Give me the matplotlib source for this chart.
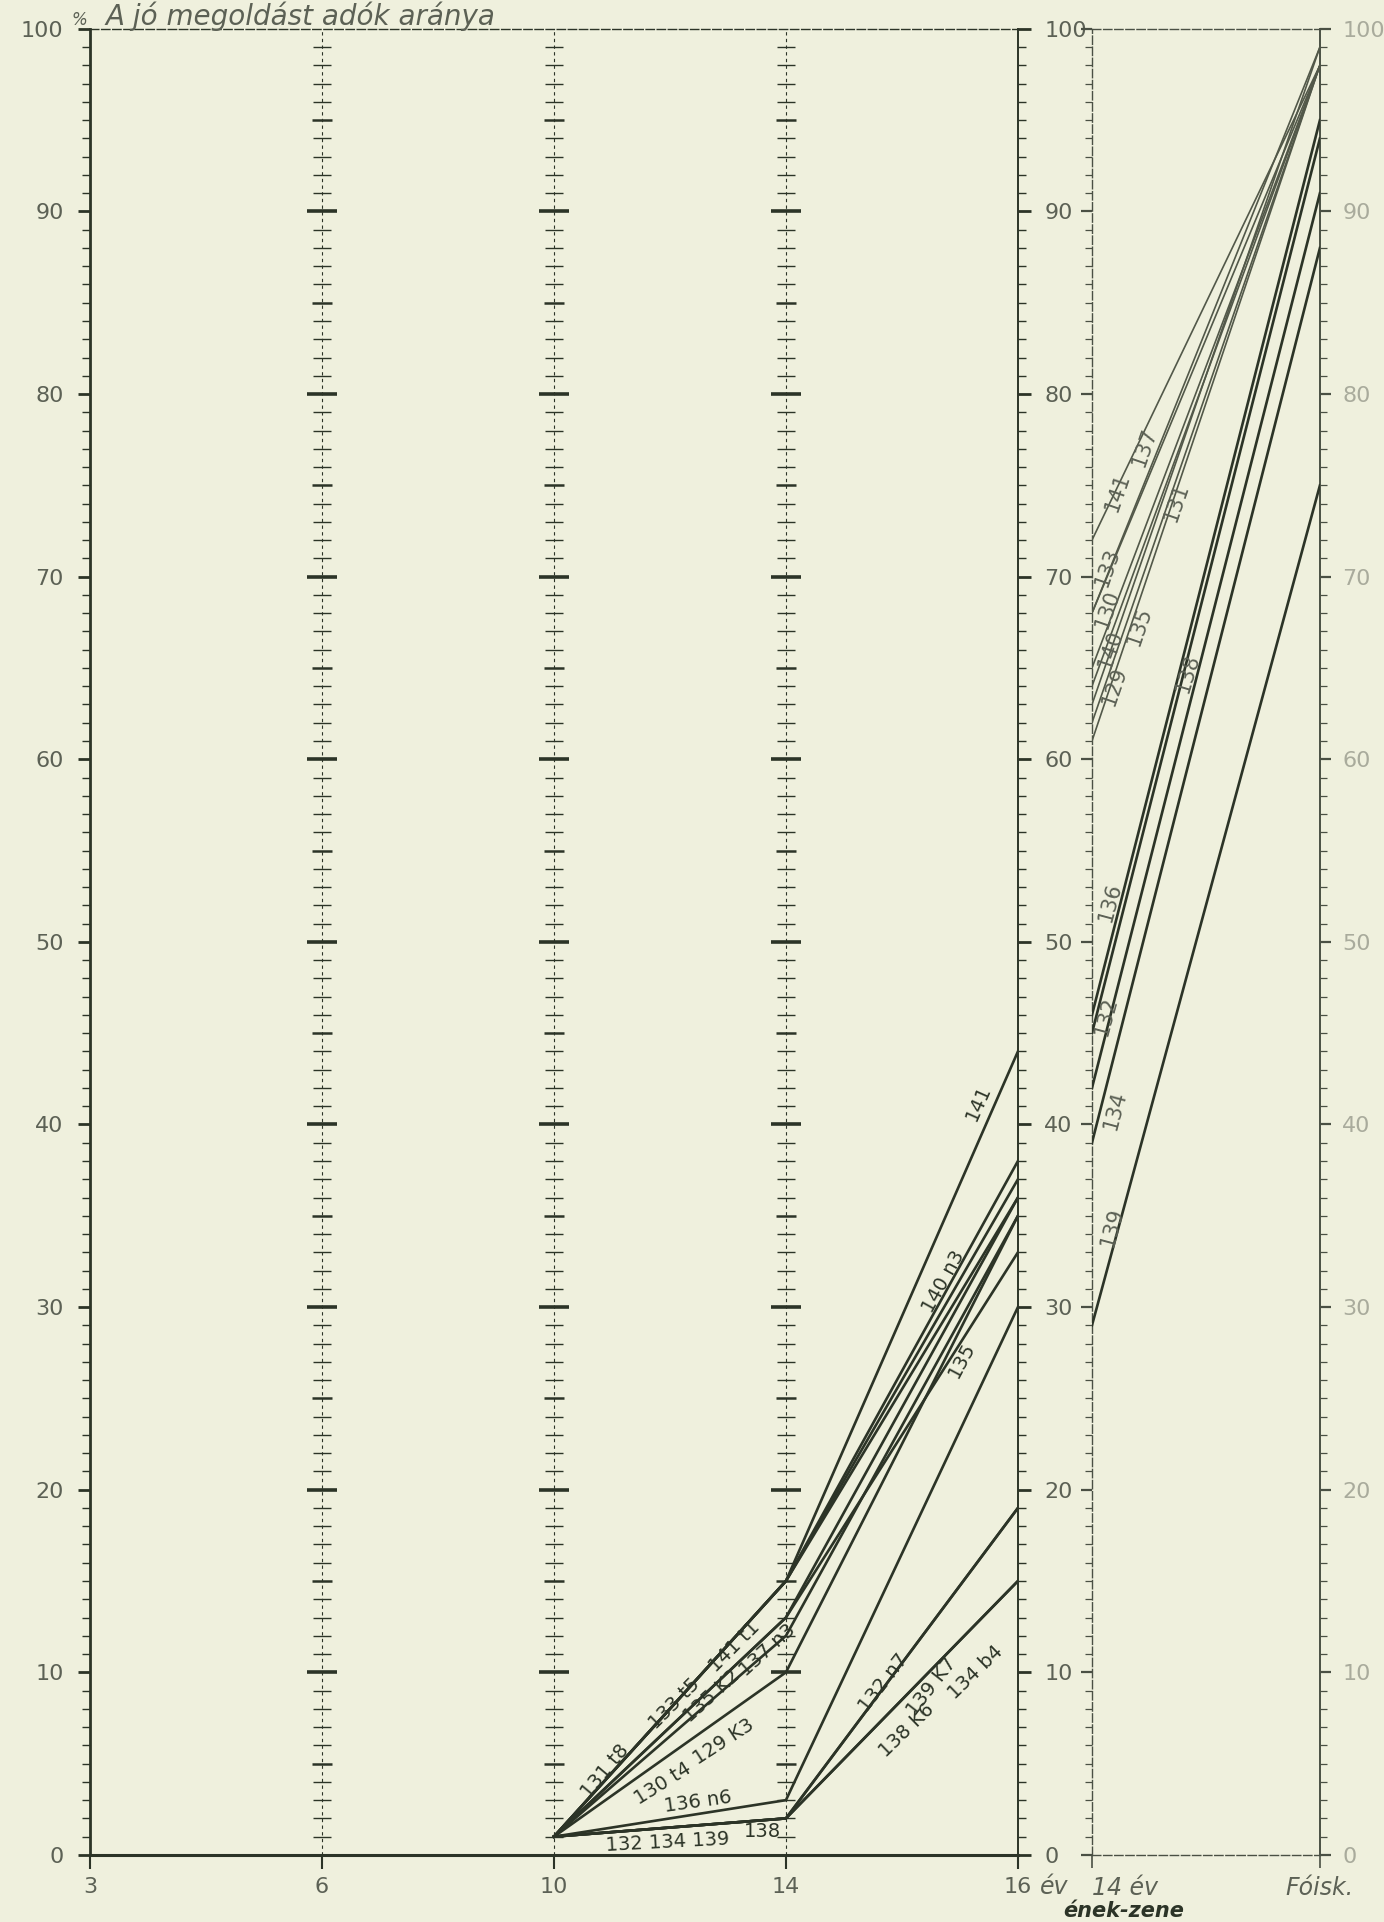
import matplotlib.pyplot as plt
from matplotlib.ticker import MultipleLocator

# main panel: age groups on the x axis, share of correct answers (%) per school
ages = ['3', '6', '10', '14', '16']
line_ages = [2, 3, 4]          # positions of 10, 14 and 16 év
schools = ['141', '133', '131', '140', '137', '135', '130', '129',
           '136', '132', '139', '138', '134']
pct_10 = [1, 1, 1, 1, 1, 1, 1, 1, 1, 1, 1, 1, 1]
pct_14 = [15, 15, 15, 15, 13, 13, 12, 10, 3, 2, 2, 2, 2]
pct_16 = [44, 38, 37, 36, 36, 33, 35, 35, 30, 19, 19, 15, 15]

# right panel: ének-zene (music) schools, 14 év -> főiskola
zene_ticks = ['14 év', 'Fóisk.']
zene_schools = ['141', '137', '133', '130', '140', '135', '131', '129',
                '136', '132', '138', '134', '139']
zene_14 = [72, 68, 68, 65, 64, 63, 62, 61, 46, 45, 42, 39, 29]
zene_fo = [98, 99, 98, 98, 98, 99, 98, 98, 95, 94, 91, 88, 75]

bg = '#eff0dd'
ink = '#2c3427'
grey = '#5c6155'
light = '#a9ab9c'

plt.rcParams['font.family'] = ['DejaVu Sans']

fig = plt.figure(figsize=(13.84, 19.22), dpi=100, facecolor=bg)
ax = fig.add_axes([0.065, 0.0349, 0.6705, 0.9501])
ax2 = fig.add_axes([0.789, 0.0349, 0.1647, 0.9501])

for a in (ax, ax2):
    a.set_facecolor(bg)
    a.set_ylim(0, 100)
    a.yaxis.set_major_locator(MultipleLocator(10))
    a.yaxis.set_minor_locator(MultipleLocator(1))

# ---- main panel
ax.set_xlim(0, 4)
ax.set_xticks(range(len(ages)))
ax.set_xticklabels(ages)

# dashed age columns with cross ticks
for col in [1, 2, 3]:
    ax.vlines(col, 0, 100, color=ink, lw=0.8, linestyles=(0, (3, 3)), zorder=1)
    small = [v for v in range(1, 100) if v % 5]
    mid = [v for v in range(5, 100, 10)]
    big = [v for v in range(10, 100, 10)]
    ax.plot([col] * len(small), small, ls='none', marker='_', ms=13, mew=1.0, color=ink, zorder=1)
    ax.plot([col] * len(mid), mid, ls='none', marker='_', ms=15, mew=1.8, color=ink, zorder=1)
    ax.plot([col] * len(big), big, ls='none', marker='_', ms=22, mew=2.6, color=ink, zorder=1)

for i in range(len(schools)):
    ax.plot(line_ages, [pct_10[i], pct_14[i], pct_16[i]], color=ink, lw=1.9, zorder=3)

main_labels = [
    ('131 t8', 2.22, 4.6, 50), ('133 t5', 2.52, 8.3, 45), ('141 t1', 2.78, 11.4, 45),
    ('135 K2', 2.68, 8.7, 42), ('137 n3', 2.92, 11.2, 42), ('129 K3', 2.73, 6.2, 33),
    ('130 t4', 2.47, 3.9, 32), ('136 n6', 2.62, 2.9, 8), ('132 134 139', 2.49, 0.7, 3),
    ('138', 2.90, 1.3, 0), ('132 n7', 3.42, 9.4, 52), ('139 K7', 3.63, 9.2, 52),
    ('138 K6', 3.52, 6.8, 44), ('134 b4', 3.82, 10.0, 44), ('141', 3.83, 41.2, 66),
    ('140 n3', 3.68, 31.4, 61), ('135', 3.76, 27.1, 62),
]
for txt, x, y, rot in main_labels:
    ax.text(x, y, txt, rotation=rot, ha='center', va='center', fontsize=14,
            color=ink, rotation_mode='anchor', zorder=4)

ax.spines['top'].set_linestyle((0, (6, 2)))
ax.spines['top'].set_linewidth(1.0)
ax.spines['left'].set_linewidth(2.0)
ax.spines['bottom'].set_linewidth(2.2)
ax.spines['right'].set_linewidth(1.4)
for s in ax.spines.values():
    s.set_color(ink)

ax.tick_params(axis='y', which='both', left=True, right=True, labelright=True,
               direction='out', colors=ink, labelsize=16)
ax.tick_params(axis='y', which='major', length=9, width=2.0, pad=10)
ax.tick_params(axis='y', which='minor', length=6, width=1.0)
ax.tick_params(axis='x', direction='out', length=10, width=1.5, colors=ink,
               labelsize=16, pad=6)
for lbl in ax.get_xticklabels():
    lbl.set_color(grey)

right_cols = {100: grey, 90: light, 80: light, 70: light, 60: '#7d8074', 50: '#7d8074',
              40: '#6a6e62', 30: '#7d8074', 20: '#7d8074', 10: '#6a6e62', 0: grey}
for t in ax.yaxis.get_major_ticks():
    v = int(round(t.get_loc()))
    t.label1.set_color(grey)
    t.label2.set_color(right_cols.get(v, grey))

ax.text(4.095, -1.75, 'év', ha='left', va='center', fontsize=17,
        style='italic', color=grey, clip_on=False)

# ---- right panel (ének-zene)
ax2.set_xlim(0, 1)
ax2.set_xticks([0, 1])
ax2.set_xticklabels(zene_ticks)
ax2.get_xticklabels()[0].set_ha('left')

for i in range(len(zene_schools)):
    upper = zene_14[i] > 55
    ax2.plot([0, 1], [zene_14[i], zene_fo[i]], color='#525849' if upper else ink,
             lw=1.2 if upper else 1.9, zorder=3)

zene_labels = [
    ('141', 0.11, 74.6, 71), ('137', 0.23, 77.1, 71), ('133', 0.07, 70.5, 71),
    ('131', 0.37, 74.1, 71), ('130', 0.07, 68.2, 71), ('140', 0.08, 66.0, 71),
    ('135', 0.21, 67.3, 71), ('129', 0.10, 64.0, 71), ('138', 0.42, 64.7, 73),
    ('136', 0.08, 52.2, 75), ('132', 0.06, 45.9, 75), ('134', 0.10, 40.8, 75),
    ('139', 0.09, 34.4, 75),
]
for txt, x, y, rot in zene_labels:
    ax2.text(x, y, txt, rotation=rot, ha='center', va='center', fontsize=15,
             color=grey, rotation_mode='anchor', zorder=4)

for side in ['top', 'bottom', 'left']:
    ax2.spines[side].set_linestyle((0, (6, 2)))
    ax2.spines[side].set_linewidth(1.0)
ax2.spines['right'].set_linewidth(1.4)
for s in ax2.spines.values():
    s.set_color('#4a5044')

ax2.tick_params(axis='y', which='both', left=True, right=True, labelleft=False,
                labelright=True, direction='out', colors='#4a5044',
                labelcolor=light, labelsize=16)
ax2.tick_params(axis='y', which='major', length=8, width=1.6, pad=8)
ax2.tick_params(axis='y', which='minor', length=5, width=0.9)
ax2.tick_params(axis='x', direction='out', length=9, width=1.2, colors='#4a5044',
                labelsize=17, pad=6)
for lbl in ax2.get_xticklabels():
    lbl.set_color(grey)
    lbl.set_style('italic')

ax2.text(0.14, -3.05, 'ének-zene', ha='center', va='center', fontsize=15,
         style='italic', weight='bold', color=ink, clip_on=False)

# title near the top edge, as in the scan
fig.text(0.052, 0.9872, '%', fontsize=12, color=grey, style='italic', va='baseline')
fig.text(0.076, 0.9872, 'A jó megoldást adók aránya', fontsize=20, color=grey,
         style='italic', va='baseline')

fig.savefig('out.png', dpi=100, facecolor=bg)
